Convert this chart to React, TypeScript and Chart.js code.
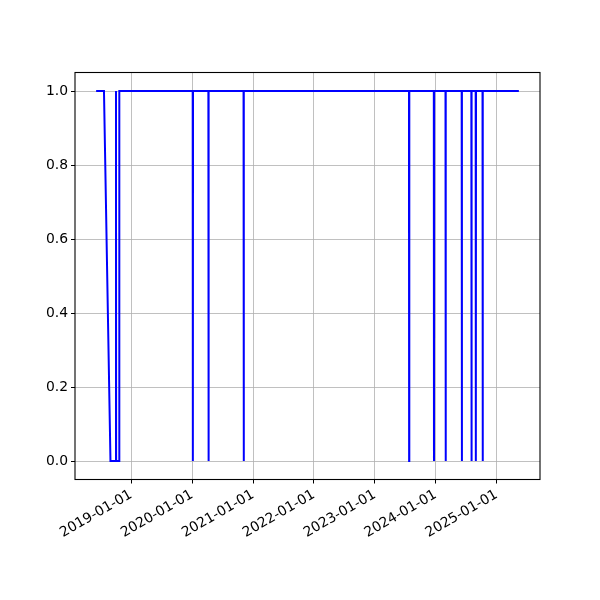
import React, { useEffect, useRef } from "react";
import { Chart, registerables } from "chart.js";

Chart.register(...registerables);

const dates: string[] = [
  "2018-06-05", "2018-07-22", "2018-08-30", "2018-10-01", "2018-10-02", "2018-10-03", "2018-10-21", "2018-10-22",
  "2020-01-05", "2020-01-06", "2020-01-07",
  "2020-04-08", "2020-04-09", "2020-04-10",
  "2020-11-05", "2020-11-06", "2020-11-07",
  "2023-07-25", "2023-07-26", "2023-07-27",
  "2023-12-21", "2023-12-22", "2023-12-23",
  "2024-02-29", "2024-03-01", "2024-03-02",
  "2024-06-05", "2024-06-06", "2024-06-07",
  "2024-08-02", "2024-08-03", "2024-08-04",
  "2024-08-28", "2024-08-29", "2024-08-30",
  "2024-10-08", "2024-10-09", "2024-10-10",
  "2025-05-14",
];
const values: number[] = [
  1, 1, 0, 0, 1, 0, 0, 1,
  1, 0, 1,
  1, 0, 1,
  1, 0, 1,
  1, 0, 1,
  1, 0, 1,
  1, 0, 1,
  1, 0, 1,
  1, 0, 1,
  1, 0, 1,
  1, 0, 1,
  1,
];
const xTickDates: string[] = [
  "2019-01-01", "2020-01-01", "2021-01-01", "2022-01-01", "2023-01-01", "2024-01-01", "2025-01-01",
];
const yTicks: number[] = [0, 0.2, 0.4, 0.6, 0.8, 1.0];

const toMs = (d: string) => Date.parse(d + "T00:00:00Z");
const fmt = (ms: number) => {
  const d = new Date(ms);
  const p = (n: number) => String(n).padStart(2, "0");
  return `${d.getUTCFullYear()}-${p(d.getUTCMonth() + 1)}-${p(d.getUTCDate())}`;
};

const framePlugin = {
  id: "frame",
  afterDatasetsDraw(chart: any) {
    const { ctx, chartArea } = chart;
    ctx.save();
    ctx.strokeStyle = "#000";
    ctx.lineWidth = 1.1;
    ctx.strokeRect(chartArea.left, chartArea.top, chartArea.right - chartArea.left, chartArea.bottom - chartArea.top);
    ctx.restore();
  },
};

export default function App() {
  const ref = useRef<HTMLCanvasElement>(null);
  useEffect(() => {
    const xs = dates.map(toMs);
    const xmin = Math.min(...xs);
    const xmax = Math.max(...xs);
    const span = xmax - xmin;
    const font = { family: "DejaVu Sans", size: 13.9 };
    const chart = new Chart(ref.current!, {
      type: "line",
      data: {
        datasets: [
          {
            data: xs.map((x, i) => ({ x, y: values[i] })),
            borderColor: "#0000ff",
            borderWidth: 2,
            pointRadius: 0,
            tension: 0,
            fill: false,
          },
        ],
      },
      options: {
        animation: false,
        responsive: false,
        devicePixelRatio: 1,
        layout: { padding: { top: 72.5, right: 60, left: 0, bottom: 0 } },
        plugins: { legend: { display: false }, tooltip: { enabled: false } },
        scales: {
          x: {
            type: "linear",
            min: xmin - span * 0.05,
            max: xmax + span * 0.05,
            afterBuildTicks: (s: any) => {
              s.ticks = xTickDates.map((d) => ({ value: toMs(d) }));
            },
            afterFit: (s: any) => {
              s.height = 120.5;
            },
            ticks: {
              callback: (v: any) => fmt(Number(v)),
              maxRotation: 30,
              minRotation: 30,
              autoSkip: false,
              color: "#000",
              font,
              padding: 3,
            },
            grid: { color: "#b0b0b0", lineWidth: 0.8, tickColor: "#000", tickLength: 4, tickWidth: 1 },
            border: { display: false },
          },
          y: {
            type: "linear",
            min: -0.05,
            max: 1.05,
            afterBuildTicks: (s: any) => {
              s.ticks = yTicks.map((v) => ({ value: v }));
            },
            afterFit: (s: any) => {
              s.width = 75;
            },
            ticks: {
              callback: (v: any) => Number(v).toFixed(1),
              color: "#000",
              font,
              padding: 3,
            },
            grid: { color: "#b0b0b0", lineWidth: 0.8, tickColor: "#000", tickLength: 4, tickWidth: 1 },
            border: { display: false },
          },
        },
      },
      plugins: [framePlugin],
    });
    return () => chart.destroy();
  }, []);
  return (
    <div style={{ position: "fixed", left: 0, top: 0, width: 600, height: 600, background: "#fff" }}>
      <canvas ref={ref} width={600} height={600} />
    </div>
  );
}
